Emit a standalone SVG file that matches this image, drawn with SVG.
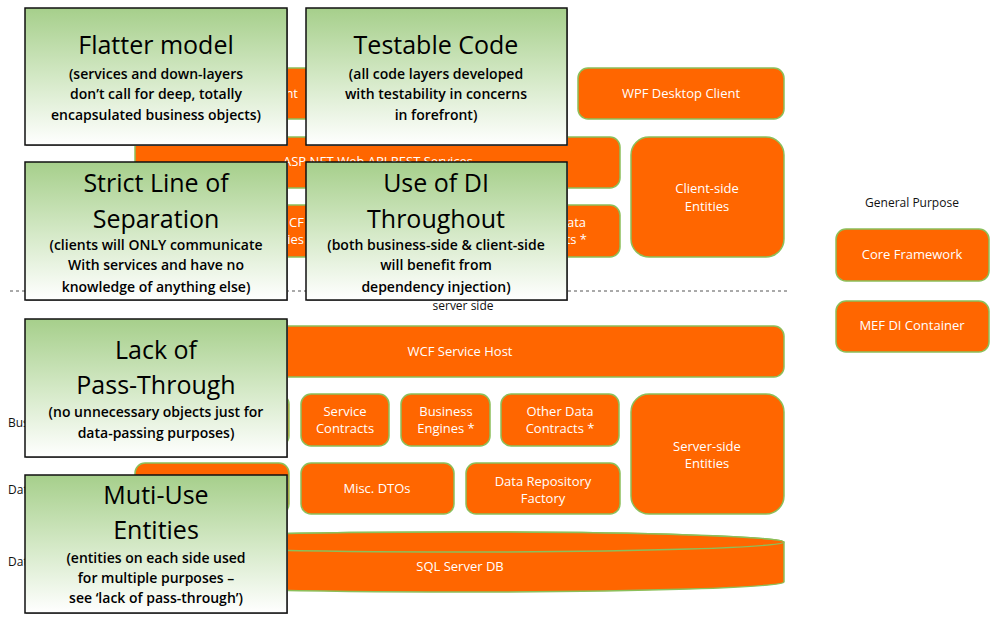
<svg xmlns="http://www.w3.org/2000/svg" width="997" height="621" viewBox="0 0 997 621">
<defs>
<linearGradient id="cg" x1="0" y1="0" x2="0" y2="1">
<stop offset="0" stop-color="#a6cf8b"/>
<stop offset="0.5" stop-color="#d3e8c5"/>
<stop offset="1" stop-color="#ffffff"/>
</linearGradient>
</defs>
<style>
.box{fill:#ff6600;stroke:#8cbf5a;stroke-width:1.5}
.bt{font-family:"Open Sans","Noto Sans",sans-serif;font-size:13px;fill:#ffffff;text-anchor:middle}
.lbl{font-family:"Open Sans","Noto Sans",sans-serif;font-size:12px;fill:#111111}
.call{fill:url(#cg);stroke:#111111;stroke-width:1.5}
.sh{fill:#9a9a9a}
.ct{font-family:"Open Sans","Noto Sans",sans-serif;font-size:25px;fill:#000000;text-anchor:middle}
.cs{font-family:"Open Sans","Noto Sans",sans-serif;font-size:14px;font-weight:600;fill:#000000;text-anchor:middle}
</style>
<rect width="997" height="621" fill="#ffffff"/>

<g id="connectors">
<line x1="10" y1="291" x2="790" y2="291" stroke="#555555" stroke-width="1" stroke-dasharray="3,3"/>
</g>

<g id="labels">
<text class="lbl" x="463" y="310" text-anchor="middle">server side</text>
<text class="lbl" x="912" y="207" text-anchor="middle">General Purpose</text>
<text class="lbl" x="8" y="427">Bus</text>
<text class="lbl" x="8" y="494">Dat</text>
<text class="lbl" x="8" y="566">Dat</text>
</g>

<g id="web-client"><rect class="box" x="135" y="68" width="425" height="51" rx="10"/><text class="bt" x="298" y="98" style="text-anchor:end">nt</text></g>
<g id="wpf-client"><rect class="box" x="578" y="68" width="206" height="51" rx="10"/><text class="bt" x="681" y="98">WPF Desktop Client</text></g>
<g id="asp-net"><rect class="box" x="135" y="137" width="485" height="51" rx="10"/><text class="bt" x="378" y="166">ASP.NET Web API REST Services</text></g>
<g id="client-entities"><rect class="box" x="631" y="137" width="153" height="120" rx="18"/><text class="bt" x="707" y="193">Client-side</text><text class="bt" x="707" y="211">Entities</text></g>
<g id="wcf-proxies"><rect class="box" x="135" y="205" width="300" height="52" rx="10"/><text class="bt" x="304" y="227" style="text-anchor:end">CF</text><text class="bt" x="304" y="244" style="text-anchor:end">xies</text></g>
<g id="client-data-contracts"><rect class="box" x="480" y="205" width="140" height="52" rx="10"/><text class="bt" x="586" y="227" style="text-anchor:end">ata</text><text class="bt" x="587" y="244" style="text-anchor:end">ts *</text></g>
<g id="core-framework"><rect class="box" x="836" y="229" width="153" height="52" rx="10"/><text class="bt" x="912" y="259">Core Framework</text></g>
<g id="mef-di"><rect class="box" x="836" y="301" width="153" height="51" rx="10"/><text class="bt" x="912" y="330">MEF DI Container</text></g>

<g id="wcf-host"><rect class="box" x="135" y="326" width="649" height="51" rx="10"/><text class="bt" x="460" y="356">WCF Service Host</text></g>
<g id="business-left"><rect class="box" x="135" y="394" width="154" height="52" rx="10"/></g>
<g id="service-contracts"><rect class="box" x="301" y="394" width="88" height="52" rx="10"/><text class="bt" x="345" y="416">Service</text><text class="bt" x="345" y="433">Contracts</text></g>
<g id="business-engines"><rect class="box" x="401" y="394" width="89" height="52" rx="10"/><text class="bt" x="446" y="416">Business</text><text class="bt" x="446" y="433">Engines *</text></g>
<g id="other-data-contracts"><rect class="box" x="501" y="394" width="118" height="52" rx="10"/><text class="bt" x="560" y="416">Other Data</text><text class="bt" x="560" y="433">Contracts *</text></g>
<g id="server-entities"><rect class="box" x="631" y="394" width="153" height="120" rx="18"/><text class="bt" x="707" y="451">Server-side</text><text class="bt" x="707" y="468">Entities</text></g>
<g id="data-left"><rect class="box" x="135" y="463" width="154" height="51" rx="10"/></g>
<g id="misc-dtos"><rect class="box" x="301" y="463" width="153" height="51" rx="10"/><text class="bt" x="377" y="493">Misc. DTOs</text></g>
<g id="data-repo"><rect class="box" x="466" y="463" width="154" height="51" rx="10"/><text class="bt" x="543" y="486">Data Repository</text><text class="bt" x="543" y="503">Factory</text></g>
<g id="sql-db">
<path class="box" d="M135,542 L135,582 A324.5,10 0 0 0 784,582 L784,542 A324.5,10 0 0 0 135,542 Z"/>
<ellipse class="box" cx="459.5" cy="542" rx="324.5" ry="10"/>
<text class="bt" x="460" y="571">SQL Server DB</text>
</g>

<g id="callout-flatter">
<rect class="sh" x="26" y="9" width="262" height="137"/>
<rect class="call" x="25" y="8" width="262" height="137"/>
<text class="ct" x="156" y="54">Flatter model</text>
<text class="cs" x="156" y="79">(services and down-layers</text>
<text class="cs" x="156" y="99">don’t call for deep, totally</text>
<text class="cs" x="156" y="120">encapsulated business objects)</text>
</g>
<g id="callout-testable">
<rect class="sh" x="307" y="9" width="261" height="137"/>
<rect class="call" x="306" y="8" width="261" height="137"/>
<text class="ct" x="436" y="54">Testable Code</text>
<text class="cs" x="436" y="79">(all code layers developed</text>
<text class="cs" x="436" y="99">with testability in concerns</text>
<text class="cs" x="436" y="120">in forefront)</text>
</g>
<g id="callout-separation">
<rect class="sh" x="26" y="163" width="262" height="138"/>
<rect class="call" x="25" y="162" width="262" height="138"/>
<text class="ct" x="156" y="192">Strict Line of</text>
<text class="ct" x="156" y="228">Separation</text>
<text class="cs" x="156" y="250">(clients will ONLY communicate</text>
<text class="cs" x="156" y="270">With services and have no</text>
<text class="cs" x="156" y="292">knowledge of anything else)</text>
</g>
<g id="callout-di">
<rect class="sh" x="307" y="163" width="261" height="138"/>
<rect class="call" x="306" y="162" width="261" height="138"/>
<text class="ct" x="436" y="192">Use of DI</text>
<text class="ct" x="436" y="228">Throughout</text>
<text class="cs" x="436" y="250">(both business-side &amp; client-side</text>
<text class="cs" x="436" y="270">will benefit from</text>
<text class="cs" x="436" y="292">dependency injection)</text>
</g>
<g id="callout-passthrough">
<rect class="sh" x="26" y="320" width="262" height="138"/>
<rect class="call" x="25" y="319" width="262" height="138"/>
<text class="ct" x="156" y="359">Lack of</text>
<text class="ct" x="156" y="394">Pass-Through</text>
<text class="cs" x="156" y="417">(no unnecessary objects just for</text>
<text class="cs" x="156" y="438">data-passing purposes)</text>
</g>
<g id="callout-entities">
<rect class="sh" x="26" y="476" width="262" height="138"/>
<rect class="call" x="25" y="475" width="262" height="138"/>
<text class="ct" x="156" y="504">Muti-Use</text>
<text class="ct" x="156" y="539">Entities</text>
<text class="cs" x="156" y="563">(entities on each side used</text>
<text class="cs" x="156" y="583">for multiple purposes –</text>
<text class="cs" x="156" y="603">see ‘lack of pass-through’)</text>
</g>
</svg>
